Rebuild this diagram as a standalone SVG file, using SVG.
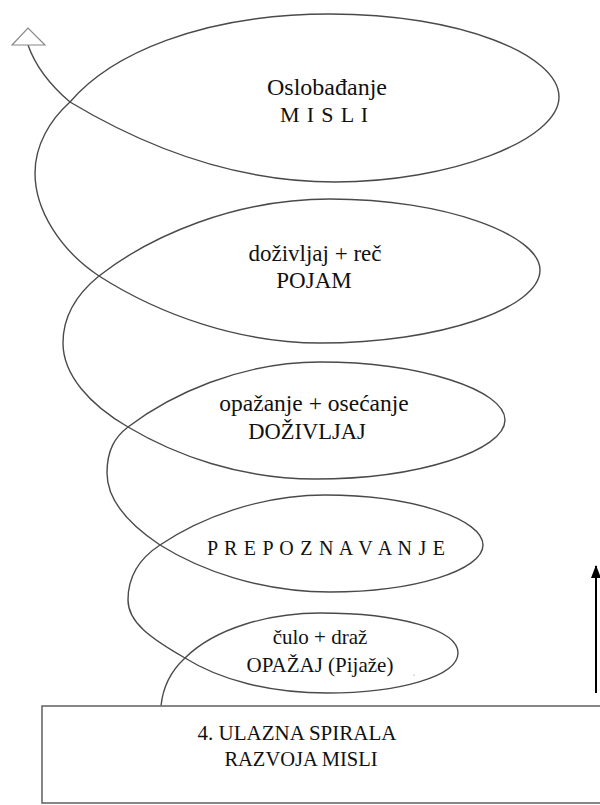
<svg xmlns="http://www.w3.org/2000/svg" width="600" height="805" viewBox="0 0 600 805">
<defs>
<style>
.lbl{font-family:"Liberation Serif","Times New Roman","DejaVu Serif",serif;fill:#111;text-anchor:middle}
.sp{fill:none;stroke:#4a4a4a;stroke-width:1.4}
.box{fill:#fff;stroke:#6a6a6a;stroke-width:1.6}
</style>
<marker id="open" markerUnits="userSpaceOnUse" markerWidth="40" markerHeight="30" refX="17" refY="19" orient="0" viewBox="0 0 40 30">
<polygon points="1,19 17,2 34,19" fill="#fff" stroke="#888" stroke-width="1.2"/>
</marker>
<marker id="solid" markerUnits="userSpaceOnUse" markerWidth="14" markerHeight="16" refX="6" refY="1" orient="0" viewBox="0 0 12 16">
<polygon points="6,0 11,13 1,13" fill="#000"/>
</marker>
</defs>
<rect width="600" height="805" fill="#fff"/>
<g id="connectors">
<path class="sp" marker-end="url(#open)" d="M161,706 C163,685 172,670 185,658 C215,628 270,613 320,613 C400,613 458,630 458,653 C458,676 400,693 327,693 C270,693 220,680 185,658 C150,638 128,622 128,600 C128,575 140,558 160,545 C200,518 260,495 325,495 C415,495 483,520 483,545 C483,570 415,592 330,592 C260,592 200,570 160,545 C130,525 107,500 107,473 C107,450 115,437 128,427 C170,395 240,362 320,362 C420,362 505,390 505,420 C505,450 420,479 315,479 C240,479 175,455 128,427 C90,405 63,375 63,343 C63,315 78,293 99,276 C150,236 235,199 330,199 C445,199 540,235 540,270 C540,308 440,343 320,343 C240,343 160,315 99,276 C60,250 35,210 35,173 C35,145 50,120 70,102 C110,55 200,14 330,14 C460,14 559,55 559,97 C559,140 450,182 335,182 C240,182 150,150 70,102 C50,85 35,65 28,45"/>
<line x1="596" y1="693" x2="596" y2="566" stroke="#000" stroke-width="2" marker-end="url(#solid)"/>
</g>
<g id="node-misli">
<text class="lbl" x="327" y="95" font-size="24">Oslobađanje</text>
<text class="lbl" x="324" y="122" font-size="22" textLength="88">M I S L I</text>
</g>
<g id="node-pojam">
<text class="lbl" x="315" y="261" font-size="23">doživljaj + reč</text>
<text class="lbl" x="314" y="288" font-size="23">POJAM</text>
</g>
<g id="node-dozivljaj">
<text class="lbl" x="314" y="411" font-size="23.5">opažanje + osećanje</text>
<text class="lbl" x="307" y="439" font-size="22.5">DOŽIVLJAJ</text>
</g>
<g id="node-prepoznavanje">
<text class="lbl" x="326" y="555" font-size="20" textLength="238">P R E P O Z N A V A N J E</text>
</g>
<g id="node-opazaj">
<text class="lbl" x="320" y="644" font-size="21">čulo + draž</text>
<text class="lbl" x="320" y="672" font-size="21">OPAŽAJ (Pijaže)</text>
<text class="lbl" x="414" y="676" font-size="12" style="fill:#bbb">.</text>
</g>
<g id="node-box">
<rect class="box" x="42" y="706" width="600" height="97"/>
<text class="lbl" x="297" y="740" font-size="21">4. ULAZNA SPIRALA</text>
<text class="lbl" x="301" y="766" font-size="20.5">RAZVOJA MISLI</text>
</g>
</svg>
